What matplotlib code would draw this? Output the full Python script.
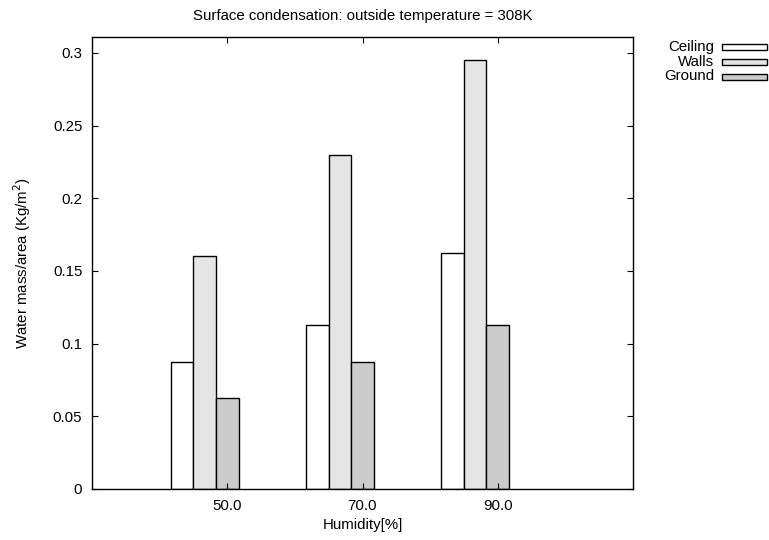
import numpy as np
import matplotlib
matplotlib.use("Agg")
import matplotlib.pyplot as plt
from matplotlib.patches import Rectangle

plt.rcParams['font.family'] = ['Liberation Sans', 'DejaVu Sans']
plt.rcParams['font.size'] = 10.8

humidity = ["50.0", "70.0", "90.0"]
ceiling = [0.0875, 0.1125, 0.1625]
walls = [0.16, 0.23, 0.295]
ground = [0.0625, 0.0875, 0.1125]

series = [("Ceiling", ceiling, "#ffffff"),
          ("Walls", walls, "#e5e5e5"),
          ("Ground", ground, "#cccccc")]

W, H = 769, 540
fig = plt.figure(figsize=(W / 100, H / 100), dpi=100)
ax = fig.add_axes([92 / W, 1 - 489 / H, (633 - 92) / W, (489 - 37) / H])

x = np.arange(len(humidity))
width = 1.0 / 6
# clusters sit to the left of the tick, last box centred on it
for k, (name, vals, col) in enumerate(series):
    ax.bar(x + (k - 2) * width, vals, width, color=col, edgecolor="black",
           linewidth=1.0, label=name)

ax.set_xlim(-1, 3)
ax.set_ylim(0, 0.311)
ax.set_xticks(x)
ax.set_xticklabels(humidity)
ax.set_yticks([0, 0.05, 0.1, 0.15, 0.2, 0.25, 0.3])
ax.set_yticklabels(["0", "0.05", "0.1", "0.15", "0.2", "0.25", "0.3"])
ax.tick_params(direction="in", length=4.5, width=0.8, top=True, right=True)
ax.tick_params(axis="x", pad=7)
ax.tick_params(axis="y", pad=7)
for s in ax.spines.values():
    s.set_linewidth(1.0)

ax.set_xlabel("Humidity[%]", labelpad=3.5)
ax.set_ylabel("Water mass/area (Kg/m$^2$)", labelpad=14)
ax.set_title("Surface condensation: outside temperature = 308K",
             fontsize=10.8, pad=12)

# key outside the plot on the right, text right-aligned before each sample box
for k, (name, vals, col) in enumerate(series):
    yc = 46.5 + 15 * k
    fig.text(714 / W, 1 - yc / H, name, ha="right", va="center")
    fig.patches.append(Rectangle((722 / W, 1 - (yc + 3) / H), 45 / W, 6 / H,
                                 transform=fig.transFigure, facecolor=col,
                                 edgecolor="black", linewidth=1.0))

fig.savefig("out.png", dpi=100)
